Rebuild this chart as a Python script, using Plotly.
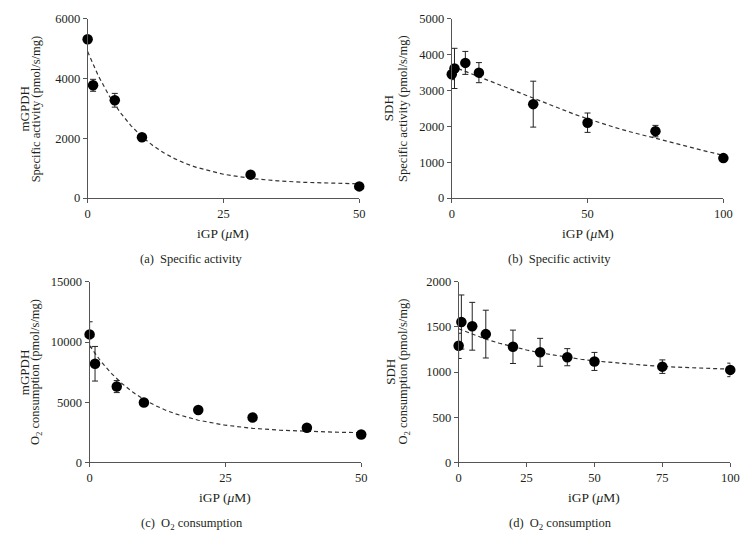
import plotly.graph_objects as go

# ---------------- data ----------------
# (a) mGPDH specific activity
a_x = [0, 1, 5, 10, 30, 50]
a_y = [5315, 3772, 3272, 2033, 783, 391]
a_err = [0, 200, 230, 0, 0, 0]
a_fit_x = [0, 2, 4, 6, 8, 10, 12, 14, 16, 18, 20, 25, 30, 35, 40, 45, 50]
a_fit_y = [4900, 4077, 3409, 2862, 2417, 2053, 1757, 1517, 1320, 1158, 1028, 797, 658, 575, 525, 496, 477]

# (b) SDH specific activity
b_x = [0, 1, 5, 10, 30, 50, 75, 100]
b_y = [3451, 3614, 3768, 3496, 2618, 2101, 1866, 1114]
b_err = [150, 560, 320, 280, 640, 270, 160, 50]
b_fit_x = [0, 5, 10, 15, 20, 25, 30, 35, 40, 45, 50, 55, 60, 65, 70, 75, 80, 85, 90, 95, 100]
b_fit_y = [3680, 3530, 3380, 3225, 3075, 2920, 2770, 2620, 2480, 2340, 2210, 2085, 1970, 1860,
           1760, 1660, 1560, 1465, 1370, 1280, 1190]

# (c) mGPDH O2 consumption
c_x = [0, 1, 5, 10, 20, 30, 40, 50]
c_y = [10633, 8192, 6293, 4964, 4340, 3716, 2875, 2306]
c_err = [1050, 1440, 500, 0, 0, 0, 0, 0]
c_fit_x = [0, 2, 4, 6, 8, 10, 12, 14, 16, 18, 20, 25, 30, 35, 40, 45, 50]
c_fit_y = [9700, 8437, 7393, 6532, 5816, 5225, 4736, 4327, 3999, 3721, 3495, 3079, 2823, 2663,
           2562, 2502, 2463]

# (d) SDH O2 consumption
d_x = [0, 1, 5, 10, 20, 30, 40, 50, 75, 100]
d_y = [1291, 1555, 1508, 1421, 1280, 1219, 1165, 1118, 1060, 1024]
d_err = [140, 300, 265, 265, 185, 155, 95, 100, 75, 75]
d_fit_x = [0, 5, 10, 15, 20, 25, 30, 35, 40, 45, 50, 60, 70, 80, 90, 100]
d_fit_y = [1480, 1420, 1365, 1320, 1280, 1245, 1213, 1187, 1163, 1142, 1124, 1095, 1072, 1055,
           1042, 1032]

a_yticks = [0, 2000, 4000, 6000]
b_yticks = [0, 1000, 2000, 3000, 4000, 5000]
c_yticks = [0, 5000, 10000, 15000]
d_yticks = [0, 500, 1000, 1500, 2000]

panels = [
    dict(x=a_x, y=a_y, e=a_err, fx=a_fit_x, fy=a_fit_y, xr=50, yr=6000,
         xt=[0, 25, 50], yt=a_yticks,
         yt1="mGPDH", yt2="Specific activity (pmol/s/mg)",
         cap="(a)  Specific activity", capx=191),
    dict(x=b_x, y=b_y, e=b_err, fx=b_fit_x, fy=b_fit_y, xr=100, yr=5000,
         xt=[0, 50, 100], yt=b_yticks,
         yt1="SDH", yt2="Specific activity (pmol/s/mg)",
         cap="(b)  Specific activity", capx=565),
    dict(x=c_x, y=c_y, e=c_err, fx=c_fit_x, fy=c_fit_y, xr=50, yr=15000,
         xt=[0, 25, 50], yt=c_yticks,
         yt1="mGPDH", yt2="O<sub>2</sub> consumption (pmol/s/mg)",
         cap="(c)  O<sub>2</sub> consumption", capx=192),
    dict(x=d_x, y=d_y, e=d_err, fx=d_fit_x, fy=d_fit_y, xr=100, yr=2000,
         xt=[0, 25, 50, 75, 100], yt=d_yticks,
         yt1="SDH", yt2="O<sub>2</sub> consumption (pmol/s/mg)",
         cap="(d)  O<sub>2</sub> consumption", capx=567),
]

W, H = 755, 556
# pixel boxes: (left, right, top, bottom)
boxes = [(86, 362, 12, 196), (456, 732, 12, 196), (88, 364, 282, 467), (463, 739, 282, 467)]
ytitle_x = [(21.5, 33.5), (392, 407), (21.5, 33.5), (393, 408)]

FONT = "Liberation Serif"
TXT = "#231f20"
AX = "#555555"

fig = go.Figure()
layout = dict(width=W, height=H, margin=dict(l=0, r=0, t=0, b=0),
              paper_bgcolor="white", plot_bgcolor="white", showlegend=False,
              font=dict(family=FONT, size=12, color=TXT))
annotations = []


def ann(text, px, py, angle=0, size=12.5):
    return dict(text=text, x=px / W, y=1 - py / H, xref="paper", yref="paper",
                xanchor="center", yanchor="middle", showarrow=False, textangle=angle,
                font=dict(family=FONT, size=size, color=TXT))


for i, (p, (l, r, t, b)) in enumerate(zip(panels, boxes)):
    n = "" if i == 0 else str(i + 1)
    xa, ya = "x" + n, "y" + n
    fig.add_trace(go.Scatter(x=p["fx"], y=p["fy"], mode="lines", xaxis=xa, yaxis=ya,
                             line=dict(color="#333333", width=1.2, dash="4px,3px"),
                             hoverinfo="skip"))
    fig.add_trace(go.Scatter(x=p["x"], y=p["y"], mode="markers", xaxis=xa, yaxis=ya,
                             cliponaxis=False,
                             marker=dict(color="black", size=10.5),
                             error_y=dict(type="data", array=p["e"], visible=True,
                                          color="#222222", thickness=1, width=3)))
    common = dict(showgrid=False, zeroline=False, showline=True, linecolor=AX, linewidth=1,
                  ticks="outside", ticklen=4, tickcolor=AX, tickwidth=1,
                  tickfont=dict(family=FONT, size=12.5, color=TXT))
    layout["xaxis" + n] = dict(domain=[l / W, r / W], range=[0, p["xr"]], tickvals=p["xt"],
                               ticktext=[str(v) for v in p["xt"]], anchor=ya, **common)
    layout["yaxis" + n] = dict(domain=[1 - b / H, 1 - t / H], range=[0, p["yr"]],
                               tickvals=p["yt"], ticktext=[str(v) for v in p["yt"]],
                               anchor=xa, **common)
    cx = (l + r) / 2
    cy = (t + b) / 2
    annotations.append(ann("iGP (<i>μ</i>M)", cx, b + 36, size=13.5))
    annotations.append(ann(p["cap"], p["capx"], b + 63))
    annotations.append(ann(p["yt1"], ytitle_x[i][0], cy, -90, size=13))
    annotations.append(ann(p["yt2"], ytitle_x[i][1], cy, -90))

layout["annotations"] = annotations
fig.update_layout(**layout)
fig.write_html("out.html", config={"displayModeBar": False},
               post_script="document.body.style.margin='0';document.body.style.padding='0';")
